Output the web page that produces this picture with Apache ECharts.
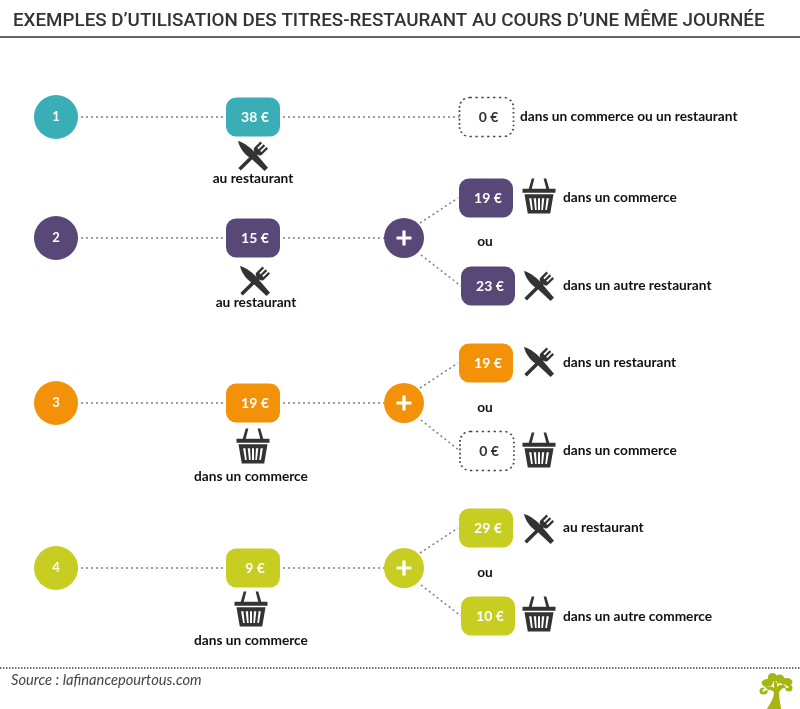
<!DOCTYPE html>
<html>
<head>
<meta charset="utf-8">
<title>Titres-restaurant</title>
<script src="https://cdn.jsdelivr.net/npm/echarts@6/dist/echarts.min.js"></script>
<style>
html,body{margin:0;padding:0;background:#fff;}
#chart{width:800px;height:709px;}
</style>
</head>
<body>
<div id="chart"></div>
<script>
// data
const chartTitle = 'EXEMPLES D’UTILISATION DES TITRES-RESTAURANT AU COURS D’UNE MÊME JOURNÉE';
const sourceText = 'Source : lafinancepourtous.com';
const orWord = 'ou';
const rowIds = ['1', '2', '3', '4'];
const firstValues = [38, 15, 19, 9];
const firstKinds = ['resto', 'resto', 'shop', 'shop'];
const firstPlaces = ['au restaurant', 'au restaurant', 'dans un commerce', 'dans un commerce'];
const upperValues = [0, 19, 19, 29];
const upperKinds = [null, 'shop', 'resto', 'resto'];
const upperPlaces = ['dans un commerce ou un restaurant', 'dans un commerce', 'dans un restaurant', 'au restaurant'];
const lowerValues = [null, 23, 0, 10];
const lowerKinds = [null, 'resto', 'shop', 'shop'];
const lowerPlaces = [null, 'dans un autre restaurant', 'dans un commerce', 'dans un autre commerce'];

// layout, in axis units
const rowY = [117, 238, 403, 568];
const rowColors = ['#3aaeb7', '#574878', '#f39208', '#c8cd21'];
const firstIconPos = [[253, 156], [255, 281], [253, 446], [251, 609]];
const firstPlacePos = [[253, 179], [256, 303], [251, 477], [251, 641]];
const upperBoxPos = [[486.5, 117], [486, 198], [486, 363], [486, 528]];
const lowerBoxPos = [null, [488, 286], [487, 451], [488, 616]];
const upperIconY = [null, 196, 362, 529];
const lowerIconY = [null, 286, 450, 614];
const upperTextY = [117, 198, 363, 528];
const lowerTextY = [null, 286, 451, 617];
const orY = [null, 242, 408, 573];

const FONT = 'Lato';
const INK = '#333333';
const DOT = '#808080';

const boxPath = 'path://M10,0 H44 A10,10 0 0 1 54,10 V29 A10,10 0 0 1 44,39 H10 A10,10 0 0 1 0,29 V10 A10,10 0 0 1 10,0 Z';
const plusPath = 'path://M5.5,0 H8.5 V5.5 H14 V8.5 H8.5 V14 H5.5 V8.5 H0 V5.5 H5.5 Z';
const restoPath = 'path://M2,1 C24,6 44,26 57,39 L98,88 L87,99 L46,60 C28,50 8,28 2,1 Z ' +
  'M3,89 L55,37 C50,30 52,24 57,20 L74,3 L79,8 L64,24 L68,28 L84,12 L89,17 L73,33 L77,37 L93,21 L98,26 L80,44 C76,49 70,50 63,45 L11,97 Z';
const shopPath = 'path://M28,2 L36,2 L28,32 L19,32 Z M64,2 L72,2 L81,32 L72,32 Z M0,32 L100,32 L100,44 L0,44 Z ' +
  'M6,48 L94,48 L84,105 L16,105 Z ' +
  'M20,60 L26,95 L31,95 L27,60 Z M34,60 L38,95 L43,95 L41,60 Z M47,60 L47,95 L53,95 L53,60 Z ' +
  'M59,60 L57,95 L62,95 L66,60 Z M73,60 L69,95 L74,95 L80,60 Z';
const treePath = 'path://M7,36 C11,30 14,25 14,19 C11,16 8,16 3,19 L3,17 C8,12 12,13 14,15 L14,8 L17,8 L17,14 C20,11 24,11 28,13 L28,15 C24,14 21,15 19,19 C19,25 20,30 21,36 Z ' +
  'M0,18 a4,3.5 0 1 0 8,0 a4,3.5 0 1 0 -8,0 Z M2,10 a5.5,4 0 1 0 11,0 a5.5,4 0 1 0 -11,0 Z ' +
  'M8,4.5 a4.5,4.5 0 1 0 9,0 a4.5,4.5 0 1 0 -9,0 Z M15,6 a4.5,4.5 0 1 0 9,0 a4.5,4.5 0 1 0 -9,0 Z ' +
  'M21,9 a5.5,4 0 1 0 11,0 a5.5,4 0 1 0 -11,0 Z M25,15 a3.5,3.5 0 1 0 7,0 a3.5,3.5 0 1 0 -7,0 Z';

const links = [];
const marks = [];
const texts = [];

function link(a, b, color, type, width) {
  links.push({
    type: 'line', data: [a, b], symbol: 'none', silent: true, z: 1, clip: false,
    lineStyle: {color: color || DOT, width: width || 1.5, type: type || [2, 3]}
  });
}
function mark(pos, symbol, size, style) {
  marks.push({value: pos, symbol: symbol, symbolSize: size, itemStyle: Object.assign({opacity: 1}, style)});
}
function text(pos, str, style, align) {
  texts.push({value: pos, label: Object.assign({
    show: true, position: 'inside', formatter: str, fontFamily: FONT, fontWeight: 700, fontSize: 13.7,
    color: '#111111', opacity: 1, align: align || 'center', verticalAlign: 'middle'
  }, style || {})});
}
function iconOf(kind) {
  return kind === 'resto' ? [restoPath, [30, 30]] : [shopPath, [33, 35]];
}
function amountBox(pos, value, color) {
  const label = value + ' €';
  if (value === 0) {
    mark(pos, boxPath, [54, 39], {color: '#ffffff', borderColor: '#444444', borderWidth: 1.5, borderType: [2, 3]});
    text([pos[0] + 2, pos[1]], label, {color: INK, fontSize: 14});
  } else {
    mark(pos, boxPath, [54, 39], {color: color});
    text([pos[0] + 2, pos[1]], label, {color: '#ffffff', fontSize: 14});
  }
}

rowIds.forEach((id, i) => {
  const y = rowY[i], color = rowColors[i];
  const hasPlus = lowerValues[i] !== null;

  // connectors first, the marks are drawn above them
  link([56, y], [253, y]);
  if (hasPlus) {
    link([253, y], [404, y]);
    link([420, y - 15], [upperBoxPos[i][0] - 28, upperBoxPos[i][1]]);
    link([421, y + 17], [lowerBoxPos[i][0] - 27, lowerBoxPos[i][1]]);
  } else {
    link([253, y], [upperBoxPos[i][0], y]);
  }

  mark([56, y], 'circle', 44, {color: color});
  text([56, y], id, {color: '#ffffff', fontSize: 13});
  amountBox([253, y], firstValues[i], color);

  const first = iconOf(firstKinds[i]);
  mark(firstIconPos[i], first[0], first[1], {color: INK});
  text(firstPlacePos[i], firstPlaces[i]);

  amountBox(upperBoxPos[i], upperValues[i], color);
  if (!hasPlus) {
    text([520, upperTextY[i]], upperPlaces[i], null, 'left');
    return;
  }
  mark([404, y], 'circle', 40, {color: color});
  mark([404, y], plusPath, 15, {color: '#ffffff'});

  const up = iconOf(upperKinds[i]);
  mark([539, upperIconY[i]], up[0], up[1], {color: INK});
  text([563, upperTextY[i]], upperPlaces[i], null, 'left');

  text([485, orY[i]], orWord);

  amountBox(lowerBoxPos[i], lowerValues[i], color);
  const low = iconOf(lowerKinds[i]);
  mark([539, lowerIconY[i]], low[0], low[1], {color: INK});
  text([563, lowerTextY[i]], lowerPlaces[i], null, 'left');
});

// rules and logo
link([0, 37], [800, 37], '#666666', 'solid', 2);
link([0, 668], [800, 668], '#444444', [1.5, 1.5], 1.5);
mark([776, 691], treePath, [33, 36], {color: '#a6b511'});

const chart = echarts.init(document.getElementById('chart'), null, {renderer: 'canvas'});
chart.setOption({
  animation: false,
  backgroundColor: '#ffffff',
  title: [
    {text: chartTitle, left: 13, top: 12, padding: 0,
      textStyle: {fontFamily: 'Roboto', fontWeight: 500, fontSize: 18.8, color: INK}},
    {text: sourceText, left: 11, top: 673, padding: 0,
      textStyle: {fontFamily: FONT, fontWeight: 400, fontStyle: 'italic', fontSize: 14.7, color: '#444444'}}
  ],
  grid: {left: 0, right: 0, top: 0, bottom: 0},
  xAxis: {type: 'value', min: 0, max: 800, show: false},
  yAxis: {type: 'value', min: 0, max: 709, inverse: true, show: false},
  series: links.concat([
    {type: 'scatter', data: marks, silent: true, z: 2, clip: false},
    {type: 'scatter', data: texts, silent: true, z: 3, symbolSize: 1, itemStyle: {color: 'transparent', opacity: 1}}
  ])
});
</script>
</body>
</html>
